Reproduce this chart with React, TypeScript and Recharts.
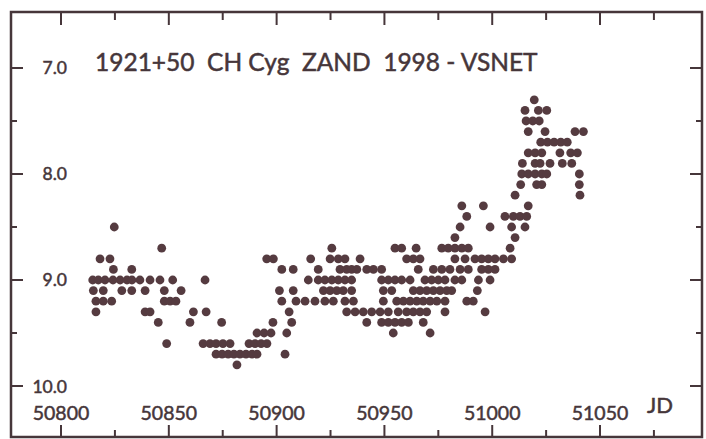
import { ScatterChart, Scatter, XAxis, YAxis, ReferenceArea, Customized } from 'recharts'

// magnitude rows (0.1 mag steps) and the JD of every estimate in that row
const MAGS = [7.3, 7.4, 7.5, 7.6, 7.7, 7.8, 7.9, 8.0, 8.1, 8.2, 8.3, 8.4, 8.5, 8.6, 8.7, 8.8, 8.9, 9.0, 9.1, 9.2, 9.3, 9.4, 9.5, 9.6, 9.7, 9.8]

const JD_ROWS = [
  [51019.5],
  [51015.2, 51021.4, 51025.3],
  [51015.7, 51018.8, 51021.8],
  [51016.7, 51024.5, 51038.4, 51042.3],
  [51022.5, 51025.6, 51028.7, 51031.8, 51034.8],
  [51016.7, 51019.9, 51023.0, 51031.4, 51036.4, 51039.5],
  [51014.0, 51019.9, 51022.2, 51026.8, 51032.5, 51036.9],
  [51013.7, 51016.7, 51019.9, 51023.0, 51025.3, 51040.4],
  [51013.2, 51020.6, 51023.0, 51040.4],
  [51010.6, 51040.7],
  [50985.9, 50995.9, 51016.7],
  [50988.2, 51005.9, 51009.8, 51012.9, 51016.0],
  [50824.7, 50985.1, 50999.0, 51009.0, 51015.2],
  [50982.7, 51010.6],
  [50846.7, 50925.6, 50954.9, 50958.0, 50964.7, 50976.6, 50979.6, 50982.7, 50985.9, 50988.9, 51008.3],
  [50818.1, 50822.7, 50895.4, 50898.5, 50915.8, 50924.8, 50928.6, 50931.7, 50938.7, 50960.3, 50963.4, 50966.5,
    50982.7, 50987.4, 50992.0, 50995.1, 50998.2, 51001.3, 51005.2, 51009.0],
  [50824.3, 50832.8, 50902.4, 50907.7, 50919.3, 50929.4, 50932.5, 50934.8, 50937.2, 50941.8, 50944.9, 50948.7,
    50965.7, 50972.7, 50976.6, 50980.4, 50985.1, 50988.9, 50995.1, 50998.2, 51001.3],
  [50814.7, 50817.3, 50820.4, 50824.1, 50827.4, 50830.6, 50832.9, 50836.6, 50841.3, 50845.9, 50851.8, 50866.8,
    50914.7, 50919.3, 50922.4, 50925.6, 50928.6, 50931.7, 50934.8, 50948.7, 50951.8, 50954.9, 50958.0, 50961.9,
    50968.8, 50971.9, 50975.0, 50978.1, 50982.7, 50985.9, 50993.6, 50999.0],
  [50815.0, 50819.6, 50828.2, 50832.8, 50839.0, 50847.9, 50855.7, 50901.3, 50907.7, 50921.7, 50924.8, 50927.9,
    50930.9, 50934.8, 50949.5, 50953.4, 50963.4, 50966.5, 50969.6, 50972.7, 50975.8, 50978.9, 50981.2, 50993.1],
  [50816.2, 50819.6, 50823.5, 50847.9, 50850.6, 50853.3, 50902.4, 50909.0, 50913.2, 50917.8, 50922.4, 50926.3,
    50931.7, 50935.6, 50949.5, 50955.7, 50958.8, 50961.9, 50965.0, 50968.0, 50971.2, 50974.3, 50978.1, 50988.2,
    50991.2],
  [50816.2, 50839.0, 50841.3, 50861.4, 50867.3, 50905.8, 50932.5, 50936.4, 50940.2, 50944.1, 50948.0, 50951.8,
    50956.4, 50960.3, 50963.4, 50966.5, 50969.6, 50978.1, 50996.7],
  [50845.1, 50859.8, 50874.5, 50898.3, 50907.0, 50941.8, 50948.7, 50951.8, 50954.9, 50958.0, 50961.1, 50968.0],
  [50890.9, 50894.2, 50897.4, 50904.7, 50954.1, 50971.2],
  [50849.0, 50865.9, 50869.1, 50871.9, 50875.1, 50878.4, 50887.2, 50890.0, 50892.8, 50895.5],
  [50871.9, 50874.7, 50877.5, 50880.2, 50883.0, 50885.8, 50888.6, 50890.9, 50903.9],
  [50881.6],
]

const JD_TICKS = [50800, 50825, 50850, 50875, 50900, 50925, 50950, 50975, 51000, 51025, 51050, 51075]
const MAG_TICKS = [7, 7.5, 8, 8.5, 9, 9.5, 10]

const TITLE = '1921+50  CH Cyg  ZAND  1998 - VSNET'

const points = MAGS.flatMap((mag, i) => JD_ROWS[i].map((jd) => ({ jd, mag })))

const W = 706
const H = 439
// axes get 1px each (a 0px axis is not drawn at all)
const MARGIN = { top: 12, right: 4, bottom: 1, left: 10 }
const PLOT_TOP = MARGIN.top
const PLOT_RIGHT = W - MARGIN.right
const INK = '#46363a'
const DOT = '#553b40'
const FONT = 'Lato, "Open Sans", sans-serif'
// the scanned type is a bit heavier than Lato regular
const TEXT = { fill: INK, stroke: INK, strokeWidth: 0.5, fontFamily: FONT }

function JdTick(props: any) {
  const { x, y, payload } = props
  const v = payload.value
  const major = v % 50 === 0
  const len = major ? 12 : 7
  // y is the bottom edge of the plot
  return (
    <g>
      <line x1={x} y1={y} x2={x} y2={y - len} stroke={INK} strokeWidth={2} />
      <line x1={x} y1={PLOT_TOP} x2={x} y2={PLOT_TOP + len + 1} stroke={INK} strokeWidth={2} />
      {major && (
        <text x={x} y={y - 17} textAnchor="middle" fontSize={19.5} {...TEXT}>
          {v}
        </text>
      )}
    </g>
  )
}

function MagTick(props: any) {
  const { x, y, payload } = props
  const v = payload.value
  const major = Number.isInteger(v)
  const len = major ? 12 : 6
  return (
    <g>
      <line x1={x} y1={y} x2={x + len} y2={y} stroke={INK} strokeWidth={2} />
      <line x1={PLOT_RIGHT} y1={y} x2={PLOT_RIGHT - len} y2={y} stroke={INK} strokeWidth={2} />
      {major && (
        <text x={x + 56} y={y + 6.5} textAnchor="end" fontSize={17.5} {...TEXT}>
          {v.toFixed(1)}
        </text>
      )}
    </g>
  )
}

const Dot = (props: any) => <circle cx={props.cx} cy={props.cy} r={4.4} fill={DOT} />

const Labels = () => (
  <g>
    <text x={95} y={71} fontSize={24.5} style={{ whiteSpace: 'pre' }} {...TEXT}>
      {TITLE}
    </text>
    <text x={647} y={413} fontSize={22} {...TEXT}>
      JD
    </text>
  </g>
)

export default function App() {
  return (
    <div style={{ position: 'absolute', left: 0, top: 0, width: W, height: H, background: '#fff' }}>
      <ScatterChart width={W} height={H} margin={MARGIN}>
        <XAxis
          type="number"
          dataKey="jd"
          domain={[50776.8, 51097.3]}
          allowDataOverflow
          ticks={JD_TICKS}
          interval={0}
          height={1}
          tickSize={0}
          tickMargin={0}
          axisLine={false}
          tickLine={false}
          tick={<JdTick />}
        />
        <YAxis
          type="number"
          dataKey="mag"
          reversed
          domain={[6.472, 10.481]}
          allowDataOverflow
          ticks={MAG_TICKS}
          interval={0}
          width={1}
          tickSize={0}
          tickMargin={0}
          axisLine={false}
          tickLine={false}
          tick={<MagTick />}
        />
        <ReferenceArea x1={50776.8} x2={51097.3} y1={6.472} y2={10.481} fill="none" stroke={INK} strokeWidth={2.5} />
        <Scatter data={points} shape={<Dot />} isAnimationActive={false} />
        <Customized component={<Labels />} />
      </ScatterChart>
    </div>
  )
}
